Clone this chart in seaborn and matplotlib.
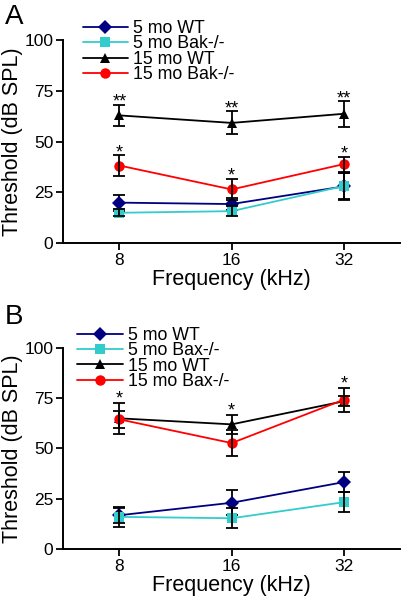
import numpy as np
import pandas as pd
import matplotlib
matplotlib.use("Agg")
import matplotlib.pyplot as plt
import seaborn as sns

freqs = ["8", "16", "32"]

# panel A (Bak)
labels_a = ["5 mo WT", "5 mo Bak-/-", "15 mo WT", "15 mo Bak-/-"]
means_a = [
    [20.0, 19.3, 28.0],
    [15.0, 15.8, 28.2],
    [63.0, 59.3, 63.8],
    [38.3, 26.5, 39.0],
]
errs_a = [
    [4.0, 3.0, 6.5],
    [1.8, 2.5, 6.5],
    [5.3, 5.7, 6.3],
    [5.0, 5.2, 3.7],
]
stars_a = [None, None, "**", "*"]

# panel B (Bax)
labels_b = ["5 mo WT", "5 mo Bax-/-", "15 mo WT", "15 mo Bax-/-"]
means_b = [
    [16.8, 23.0, 33.3],
    [16.0, 15.3, 23.3],
    [65.0, 62.0, 73.5],
    [64.5, 52.7, 74.3],
]
errs_b = [
    [3.7, 6.3, 4.8],
    [4.8, 5.0, 5.0],
    [7.8, 4.7, 2.6],
    [4.3, 6.5, 6.0],
]
stars_b = ["*", "*", "*"]

colors = ["#000080", "#33CCCC", "#000000", "#FF0000"]
markers = ["D", "s", "^", "o"]


def draw_panel(ax, labels, means, errs, letter, leg_x, leg_y, letter_y):
    rows = []
    for lab, m in zip(labels, means):
        for i, v in enumerate(m):
            rows.append({"pos": i, "thr": v, "group": lab})
    df = pd.DataFrame(rows)
    sns.lineplot(data=df, x="pos", y="thr", hue="group", style="group",
                 hue_order=labels, style_order=labels,
                 palette=dict(zip(labels, colors)),
                 markers=dict(zip(labels, markers)), dashes=False,
                 markersize=7.5, markeredgewidth=0, linewidth=1.3, ax=ax)
    for k, lab in enumerate(labels):
        ax.errorbar(range(3), means[k], yerr=errs[k], fmt="none",
                    ecolor="black", elinewidth=1.3, capsize=4.5, capthick=1.3,
                    zorder=1.5 + k)

    ax.set_xlim(-0.5, 2.5)
    ax.set_ylim(0, 100)
    ax.set_xticks(range(3))
    ax.set_xticklabels(freqs)
    ax.set_yticks([0, 25, 50, 75, 100])
    ax.tick_params(labelsize=12.5, width=1.3, length=5, direction="out",
                   colors="black", pad=2)
    ax.set_xlabel("Frequency (kHz)", fontsize=15.5, labelpad=1)
    ax.set_ylabel("Threshold (dB SPL)", fontsize=15.5, labelpad=1)
    for sp in ["top", "right"]:
        ax.spines[sp].set_visible(False)
    for sp in ["left", "bottom"]:
        ax.spines[sp].set_linewidth(1.4)
        ax.spines[sp].set_color("black")
    handles, labs = ax.get_legend_handles_labels()
    ax.legend(handles, labs, loc="upper left", bbox_to_anchor=(leg_x, leg_y),
              frameon=False, fontsize=12.8, handlelength=2.55,
              labelspacing=-0.09, handletextpad=0.3, borderaxespad=0,
              borderpad=0)
    ax.text(-0.145, letter_y, letter, transform=ax.transAxes, fontsize=20,
            ha="center", va="center")


sns.set_style("ticks")
plt.rcParams["font.family"] = ["Liberation Sans", "DejaVu Sans"]
plt.rcParams["text.color"] = "black"
plt.rcParams["axes.labelcolor"] = "black"

fig = plt.figure(figsize=(4.05, 6.02), dpi=100)
ax1 = fig.add_axes([0.156, 0.596, 0.832, 0.337])
ax2 = fig.add_axes([0.156, 0.088, 0.832, 0.334])

draw_panel(ax1, labels_a, means_a, errs_a, "A", 0.058, 1.10, 1.113)
draw_panel(ax2, labels_b, means_b, errs_b, "B", 0.042, 1.105, 1.152)

# stars over the 15 mo groups (panel A: both groups, panel B: highest bar)
for k in (2, 3):
    for i in range(3):
        top = means_a[k][i] + errs_a[k][i]
        ax1.text(i, top - 1, stars_a[k], ha="center", va="baseline",
                 fontsize=13)
for i in range(3):
    top = max(means_b[2][i] + errs_b[2][i], means_b[3][i] + errs_b[3][i])
    ax2.text(i, top - 0.5, stars_b[i], ha="center", va="baseline",
             fontsize=13)

fig.savefig("out.png", dpi=100)
